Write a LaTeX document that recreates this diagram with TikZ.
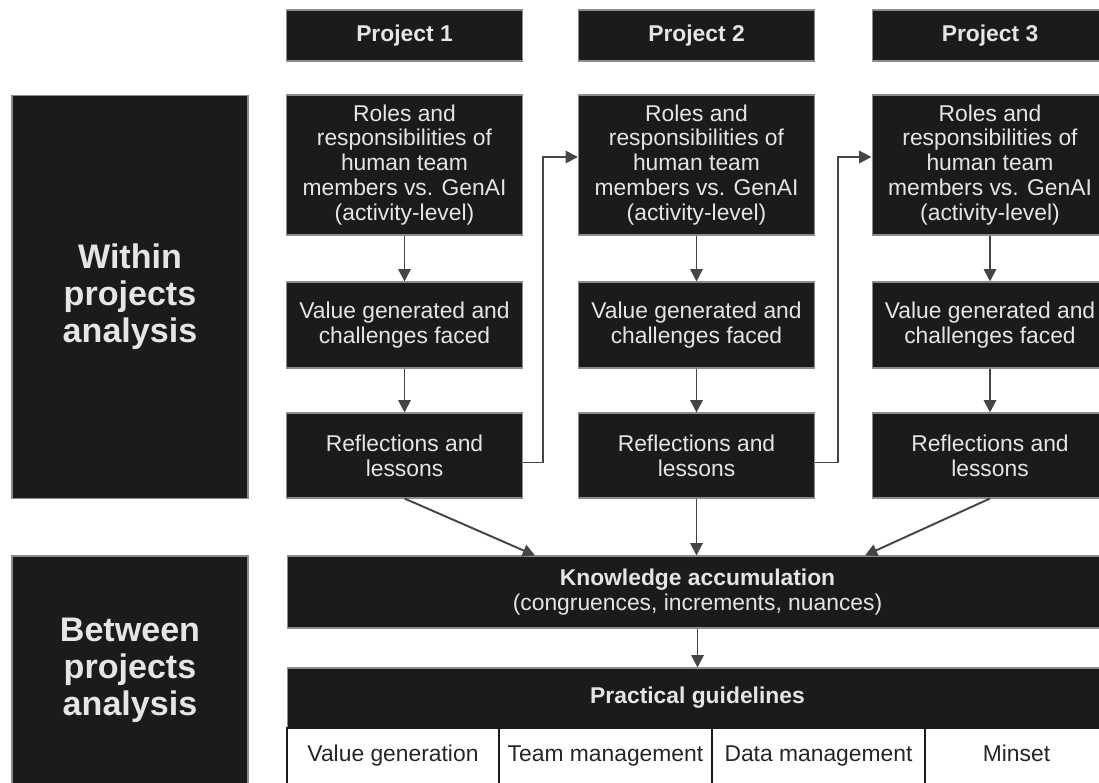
\documentclass[tikz,border=0pt]{standalone}
\usepackage{fontspec}
\setmainfont{Liberation Sans}
\usepackage{tikz}
\usetikzlibrary{arrows.meta,positioning,calc}
\definecolor{boxblack}{HTML}{1B1B1B}
\definecolor{boxrim}{HTML}{8C8C8C}
\definecolor{flowgray}{HTML}{454545}

\begin{document}
\begin{tikzpicture}[x=0.02cm,y=-0.02cm,
	dark/.style={draw=boxrim,line width=0.6pt,fill=boxblack,text=white!90!black,align=center,inner sep=0pt,minimum width=4.72cm,font=\fontsize{13}{14.2}\selectfont},
	head/.style={dark,minimum height=1.02cm,font=\fontsize{13}{14.2}\selectfont\bfseries},
	side/.style={dark,font=\fontsize{19.4}{21}\selectfont\bfseries},
	cell/.style={draw=boxblack,line width=1.1pt,fill=white,text=black!85,inner sep=0pt,text height=9.5pt,text depth=2.8pt,minimum height=1.12cm,font=\fontsize{13}{14.2}\selectfont},
	flow/.style={draw=flowgray,line width=1.1pt,-{Triangle[length=7pt,width=7pt]}}]
	\useasboundingbox (0,0) rectangle (1099,783);
	\clip (0,0) rectangle (1099,783);
	% left labels
	\node[side,minimum height=8.06cm] (within) at (130,297) {Within\\projects\\analysis};
	\node[side,minimum height=4.56cm] (between) at (130,670) {Between\\projects\\analysis};
	% one column per project
	\foreach \i/\x in {1/404.5,2/696.5,3/990}{
		\node[head] (proj\i) at (\x,35.5) {Project \i};
		\node[dark,minimum height=2.8cm] (roles\i) at (\x,165) {Roles and\\responsibilities of\\human team\\members vs. GenAI\\(activity-level)};
		\node[dark,minimum height=1.72cm] (value\i) at (\x,325) {Value generated and\\challenges faced};
		\node[dark,minimum height=1.7cm] (refl\i) at (\x,455.5) {Reflections and\\lessons};
		\draw[flow] (roles\i) -- (value\i);
		\draw[flow] (value\i) -- (refl\i);
	}
	\draw[flow] ([yshift=-0.14cm]refl1.east) -- ++(20,0) |- ([yshift=0.16cm]roles2.west);
	\draw[flow] ([yshift=-0.14cm]refl2.east) -- ++(23,0) |- ([yshift=0.16cm]roles3.west);
	% between projects
	\node[dark,minimum width=16.42cm,minimum height=1.44cm] (know) at (697.5,592) {\textbf{Knowledge accumulation}\\(congruences, increments, nuances)};
	\node[head,minimum width=16.42cm,minimum height=1.2cm] (guide) at (697.5,698) {Practical guidelines};
	\node[cell,minimum width=4.24cm] (valgen) at (393,756) {Value generation};
	\node[cell,minimum width=4.26cm] (teamman) at (605.5,756) {Team management};
	\node[cell,minimum width=4.26cm] (dataman) at (818.5,756) {Data management};
	\node[cell,minimum width=3.66cm] (mindset) at (1016.5,756) {Minset};
	\draw[flow] (refl1.south) -- ([xshift=-3.25cm]know.north);
	\draw[flow] (refl2.south) -- (refl2.south |- know.north);
	\draw[flow] (refl3.south) -- ([xshift=3.35cm]know.north);
	\draw[flow] (know) -- (guide);
\end{tikzpicture}
\end{document}
